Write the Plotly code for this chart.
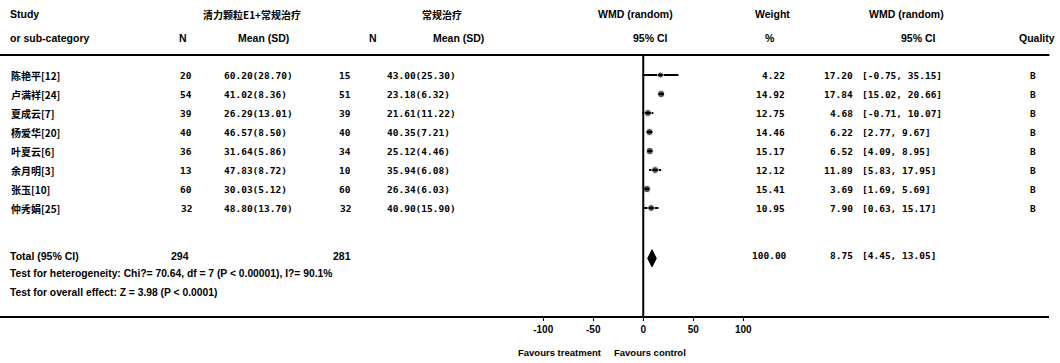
import plotly.graph_objects as go

# ---------------- data ----------------
studies = ["陈艳平[12]", "卢满祥[24]", "夏成云[7]", "杨爱华[20]", "叶夏云[6]", "余月明[3]", "张玉[10]", "仲秀娟[25]"]
n_treat = [20, 54, 39, 40, 36, 13, 60, 32]
mean_treat = [60.20, 41.02, 26.29, 46.57, 31.64, 47.83, 30.03, 48.80]
sd_treat = [28.70, 8.36, 13.01, 8.50, 5.86, 8.72, 5.12, 13.70]
n_ctrl = [15, 51, 39, 40, 34, 10, 60, 32]
mean_ctrl = [43.00, 23.18, 21.61, 40.35, 25.12, 35.94, 26.34, 40.90]
sd_ctrl = [25.30, 6.32, 11.22, 7.21, 4.46, 6.08, 6.03, 15.90]
weights = [4.22, 14.92, 12.75, 14.46, 15.17, 12.12, 15.41, 10.95]
wmd = [17.20, 17.84, 4.68, 6.22, 6.52, 11.89, 3.69, 7.90]
ci_low = [-0.75, 15.02, -0.71, 2.77, 4.09, 5.83, 1.69, 0.63]
ci_high = [35.15, 20.66, 10.07, 9.67, 8.95, 17.95, 5.69, 15.17]
quality = ["B"] * 8

total_n_treat = 294
total_n_ctrl = 281
total_weight = 100.00
total_wmd = 8.75
total_low = 4.45
total_high = 13.05

tick_vals = [-100, -50, 0, 50, 100]
tick_text = ["-100", "-50", "0", "50", "100"]

het_text = "Test for heterogeneity: Chi?= 70.64, df = 7 (P < 0.00001), I?= 90.1%"
overall_text = "Test for overall effect: Z = 3.98 (P < 0.0001)"
group1 = "清力颗粒E1+常规治疗"
group2 = "常规治疗"

# ---------------- layout helpers ----------------
W, H = 1060, 363
rows = list(range(1, len(studies) + 1))
total_row = 10.5

NARROW = "Liberation Sans Narrow, Arial Narrow, Liberation Sans, sans-serif"
MONO = "DejaVu Sans Mono, Liberation Mono, monospace"
CJK = "Noto Sans CJK SC, sans-serif"

annotations = []


def px(x):
    return x / W


def ann(text, x, y, anchor="left", family=NARROW, size=10.5, yref="y"):
    annotations.append(dict(
        text=text, x=px(x), y=y, xref="paper", yref=yref,
        xanchor=anchor, yanchor="middle", showarrow=False,
        font=dict(family=family, size=size, color="black", weight="bold"),
    ))


# headers
hy1, hy2 = -2.21, -0.95
ann("Study", 8, hy1)
ann("or sub-category", 8, hy2)
ann(group1, 252, hy1, "center", family=CJK, size=10)
ann("N", 183, hy2, "center")
ann("Mean (SD)", 263, hy2, "center")
ann(group2, 442, hy1, "center", family=CJK, size=10)
ann("N", 373, hy2, "center")
ann("Mean (SD)", 458, hy2, "center")
ann("WMD (random)", 635, hy1, "center")
ann("95% CI", 650, hy2, "center")
ann("Weight", 772, hy1, "center")
ann("%", 770, hy2, "center")
ann("WMD (random)", 906, hy1, "center")
ann("95% CI", 918, hy2, "center")
ann("Quality", 1037, hy2, "center")

# study rows
for i, r in enumerate(rows):
    ann(studies[i], 9, r, "left", family=CJK, size=10)
    ann(str(n_treat[i]), 194, r, "right", family=MONO, size=9.5)
    ann(f"{mean_treat[i]:.2f}({sd_treat[i]:.2f})", 222, r, "left", family=MONO, size=9.5)
    ann(str(n_ctrl[i]), 353, r, "right", family=MONO, size=9.5)
    ann(f"{mean_ctrl[i]:.2f}({sd_ctrl[i]:.2f})", 385, r, "left", family=MONO, size=9.5)
    ann(f"{weights[i]:.2f}", 787, r, "right", family=MONO, size=9.5)
    ann(f"{wmd[i]:.2f}", 855, r, "right", family=MONO, size=9.5)
    ann(f"[{ci_low[i]:.2f}, {ci_high[i]:.2f}]", 860, r, "left", family=MONO, size=9.5)
    ann(quality[i], 1033, r, "center", family=MONO, size=9.5)

# totals
ann("Total (95% CI)", 8, total_row)
ann(str(total_n_treat), 191, total_row, "right")
ann(str(total_n_ctrl), 353, total_row, "right")
ann(f"{total_weight:.2f}", 789, total_row, "right", family=MONO, size=9.5)
ann(f"{total_wmd:.2f}", 855, total_row, "right", family=MONO, size=9.5)
ann(f"[{total_low:.2f}, {total_high:.2f}]", 860, total_row, "left", family=MONO, size=9.5)
ann(het_text, 8, 11.45, size=10.3)
ann(overall_text, 8, 12.45, size=10.3)

# favours labels
ann("Favours treatment", 604, 0.03, "right", size=9.5, yref="paper")
ann("Favours control", 612, 0.03, "left", size=9.5, yref="paper")

# ---------------- traces ----------------
fig = go.Figure()

fig.add_trace(go.Scatter(
    x=wmd, y=rows, mode="markers",
    marker=dict(symbol="circle", color="black", size=[5.5 + w * 0.12 for w in weights]),
    error_x=dict(type="data", symmetric=False,
                 array=[h - m for h, m in zip(ci_high, wmd)],
                 arrayminus=[m - l for m, l in zip(wmd, ci_low)],
                 color="black", thickness=2, width=0),
    hoverinfo="skip", showlegend=False,
))

# pooled diamond
dh = 0.45
fig.add_trace(go.Scatter(
    x=[total_low, total_wmd, total_high, total_wmd, total_low],
    y=[total_row + 0.15, total_row + 0.15 - dh, total_row + 0.15, total_row + 0.15 + dh, total_row + 0.15],
    mode="lines", fill="toself", fillcolor="black",
    line=dict(color="black", width=1), hoverinfo="skip", showlegend=False,
))

y_bottom = 1 - 316 / H
y_top = 1 - 55 / H

shapes = [
    dict(type="line", xref="paper", yref="paper", x0=0, x1=0.99, y0=y_top, y1=y_top,
         line=dict(color="black", width=2)),
    dict(type="line", xref="x", yref="paper", x0=0, x1=0, y0=y_bottom, y1=y_top,
         line=dict(color="black", width=2)),
]

fig.update_layout(
    width=W, height=H,
    margin=dict(l=0, r=0, t=0, b=0),
    paper_bgcolor="white", plot_bgcolor="white",
    showlegend=False,
    annotations=annotations,
    shapes=shapes,
    xaxis=dict(
        domain=[0, 0.99], range=[-643, 406],
        tickvals=tick_vals, ticktext=tick_text,
        ticks="outside", ticklen=3, tickwidth=1, tickcolor="black",
        showline=True, linewidth=2, linecolor="black",
        showgrid=False, zeroline=False,
        tickfont=dict(family=NARROW, size=10, color="black", weight="bold"),
        fixedrange=True,
    ),
    yaxis=dict(
        domain=[y_bottom, 1], range=[(316 - 56) / 19, (0 - 56) / 19],
        showticklabels=False, showgrid=False, zeroline=False, showline=False,
        fixedrange=True,
    ),
)

fig.write_html(
    "out.html",
    config={"displayModeBar": False},
    post_script="document.body.style.margin='0';document.body.style.overflow='hidden';",
)
